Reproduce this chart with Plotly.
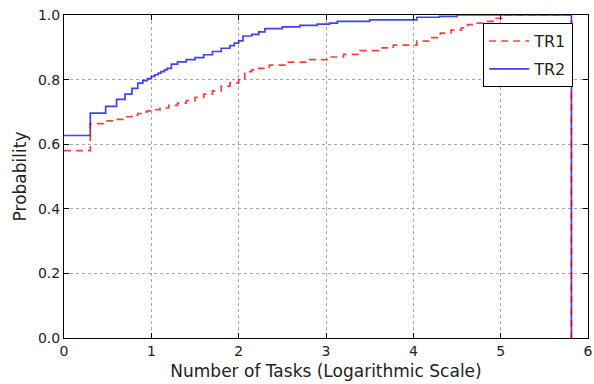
import plotly.graph_objects as go

# TR1 (red dashed) step CDF
tr1_x = [0, 0.301, 0.477, 0.602, 0.699, 0.778, 0.845, 0.903, 0.954, 1.0, 1.1, 1.2, 1.3, 1.4, 1.5,
         1.6, 1.7, 1.8, 1.9, 2.0, 2.07, 2.15, 2.23, 2.35, 2.53, 2.8, 3.04, 3.2, 3.39, 3.6, 3.77,
         4.04, 4.2, 4.31, 4.43, 4.55, 4.62, 4.72, 4.82, 4.95, 5.05, 5.81]
tr1_y = [0.58, 0.664, 0.672, 0.677, 0.685, 0.69, 0.695, 0.70, 0.703, 0.707, 0.712, 0.72, 0.727,
         0.735, 0.745, 0.755, 0.765, 0.78, 0.79, 0.80, 0.825, 0.83, 0.835, 0.845, 0.854, 0.862,
         0.87, 0.878, 0.89, 0.898, 0.907, 0.919, 0.93, 0.944, 0.953, 0.96, 0.97, 0.975, 0.98,
         0.99, 1.0, 0.0]

# TR2 (blue solid) step CDF
tr2_x = [0, 0.301, 0.477, 0.602, 0.699, 0.778, 0.845, 0.903, 0.954, 1.0, 1.04, 1.08, 1.11, 1.15,
         1.18, 1.23, 1.3, 1.4, 1.5, 1.6, 1.7, 1.8, 1.9, 1.95, 2.0, 2.05, 2.15, 2.23, 2.3, 2.5,
         2.7, 2.9, 3.04, 3.13, 3.5, 4.04, 4.3, 4.5, 5.81]
tr2_y = [0.627, 0.696, 0.717, 0.739, 0.755, 0.773, 0.789, 0.797, 0.803, 0.81, 0.815, 0.82, 0.825,
         0.83, 0.835, 0.848, 0.855, 0.862, 0.868, 0.877, 0.887, 0.897, 0.905, 0.913, 0.92, 0.935,
         0.94, 0.948, 0.958, 0.963, 0.968, 0.972, 0.975, 0.98, 0.985, 0.993, 0.996, 1.0, 0.0]

x_ticks = [0, 1, 2, 3, 4, 5, 6]
y_ticks = [0.0, 0.2, 0.4, 0.6, 0.8, 1.0]
y_tick_labels = ["0.0", "0.2", "0.4", "0.6", "0.8", "1.0"]

fig = go.Figure()
fig.add_trace(go.Scatter(x=tr2_x, y=tr2_y, mode="lines", name="TR2", line_shape="hv",
                         line=dict(color="#0000ff", width=1.7), opacity=0.75, legendrank=2,
                         legendgroup="b"))
fig.add_trace(go.Scatter(x=tr1_x, y=tr1_y, mode="lines", name="TR1", line_shape="hv",
                         line=dict(color="#ff0000", width=1.7, dash="7px,5px"), opacity=0.75,
                         legendrank=1, legendgroup="a"))

axis_common = dict(showline=True, linecolor="black", linewidth=1, mirror="allticks",
                   ticks="inside", ticklen=5, tickcolor="black", showgrid=True,
                   gridcolor="#a8a8a8", gridwidth=1, griddash="dot", zeroline=False,
                   automargin=False, ticklabeloverflow="allow",
                   tickfont=dict(family="DejaVu Sans", size=14, color="#222"))

fig.update_xaxes(range=[0, 6], tickvals=x_ticks,
                 title=dict(text="Number of Tasks (Logarithmic Scale)",
                            font=dict(family="DejaVu Sans", size=17, color="#222"), standoff=7),
                 **axis_common)
fig.update_yaxes(range=[0, 1], tickvals=y_ticks, ticktext=y_tick_labels,
                 title=dict(text="Probability",
                            font=dict(family="DejaVu Sans", size=17, color="#222"), standoff=6),
                 **axis_common)

fig.update_layout(
    width=594, height=384,
    margin=dict(l=64, r=6, t=15, b=46),
    plot_bgcolor="white", paper_bgcolor="white",
    font=dict(family="DejaVu Sans"),
    legend=dict(x=0.80, y=0.975, xanchor="left", yanchor="top",
                bgcolor="white", bordercolor="black", borderwidth=1,
                font=dict(family="DejaVu Sans", size=16, color="#222"),
                itemwidth=40, tracegroupgap=4, traceorder="grouped"),
)

fig.write_html("out.html", config={"displayModeBar": False},
               post_script="document.body.style.margin='0px';document.body.style.overflow='hidden';")
